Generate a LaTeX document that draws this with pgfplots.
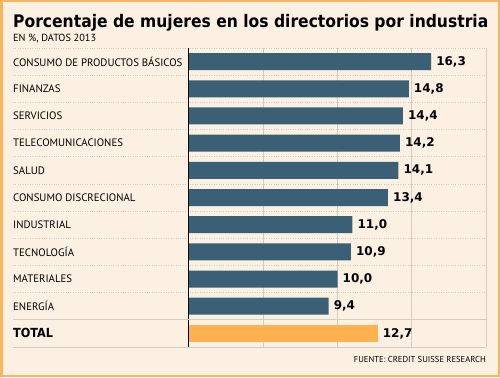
\documentclass[border=0pt]{standalone}
\usepackage{pgfplots}
\pgfplotsset{compat=1.18}
\usepackage{fontspec}
\setmainfont{DejaVu Sans Condensed}
\newfontfamily\lblfont{PT Sans}
\newfontfamily\numfont{DejaVu Sans}
\definecolor{bg}{HTML}{FBF0E1}
\definecolor{frame}{HTML}{F8B55C}
\definecolor{barblue}{HTML}{3B6075}
\definecolor{barorange}{HTML}{FDB14F}
\definecolor{gridc}{HTML}{D3CCC0}
\begin{document}
\begin{tikzpicture}[x=1bp,y=1bp]
\fill[bg] (0,0) rectangle (500,377);
\draw[frame, line width=2.5bp] (1.25,1.25) rectangle (498.75,375.75);
\node[anchor=base west, inner sep=0, font=\bfseries\fontsize{17.3bp}{20bp}\selectfont] at (13,350) {Porcentaje de mujeres en los directorios por industria};
\node[anchor=base west, inner sep=0, font=\lblfont\fontsize{10.3bp}{12bp}\selectfont] at (13,336) {EN \%, DATOS 2013};
\node[anchor=base east, inner sep=0, font=\lblfont\fontsize{8.6bp}{10bp}\selectfont] at (486,15) {FUENTE: CREDIT SUISSE RESEARCH};
\begin{axis}[
  at={(13bp,30bp)}, anchor=south west,
  scale only axis, width=473bp, height=299bp,
  xbar, bar width=17bp, bar shift=0pt,
  xmin=-11.85, xmax=20,
  ymin=-0.5, ymax=10.5, y dir=reverse,
  ytick={0,...,10},
  yticklabels={CONSUMO DE PRODUCTOS BÁSICOS, FINANZAS, SERVICIOS, TELECOMUNICACIONES, SALUD, CONSUMO DISCRECIONAL, INDUSTRIAL, TECNOLOGÍA, MATERIALES, ENERGÍA, {\rmfamily\bfseries\fontsize{12.5bp}{14bp}\selectfont TOTAL}},
  yticklabel style={anchor=west, inner sep=0pt, font=\lblfont\fontsize{10.8bp}{12bp}\selectfont},
  minor ytick={-0.5,0.5,...,8.5},
  yminorgrids=true, ymajorgrids=false,
  minor grid style={gridc, dotted, line width=0.8bp},
  extra y ticks={9.5,10.5}, extra y tick labels={},
  extra y tick style={grid=major, major grid style={gridc, solid, line width=0.9bp}},
  xtick={5,10,15,20}, xticklabels={},
  xmajorgrids=true, major grid style={gridc, line width=0.9bp},
  extra x ticks={0}, extra x tick labels={},
  extra x tick style={grid=major, major grid style={black, line width=1bp}},
  major tick length=0pt, minor tick length=0pt,
  axis line style={draw=none},
  nodes near coords,
  nodes near coords style={font=\numfont\bfseries\fontsize{12bp}{14bp}\selectfont, black, inner sep=0bp, xshift=5bp,
    /pgf/number format/.cd, fixed, fixed zerofill, precision=1, use comma, assume math mode=true},
  clip=false,
]
\addplot[fill=barblue, draw=none] coordinates {
(16.3,0) (14.8,1) (14.4,2) (14.2,3) (14.1,4) (13.4,5) (11.0,6) (10.9,7) (10.0,8) (9.4,9)};
\addplot[fill=barorange, draw=none] coordinates {(12.7,10)};
\end{axis}
\end{tikzpicture}
\end{document}
